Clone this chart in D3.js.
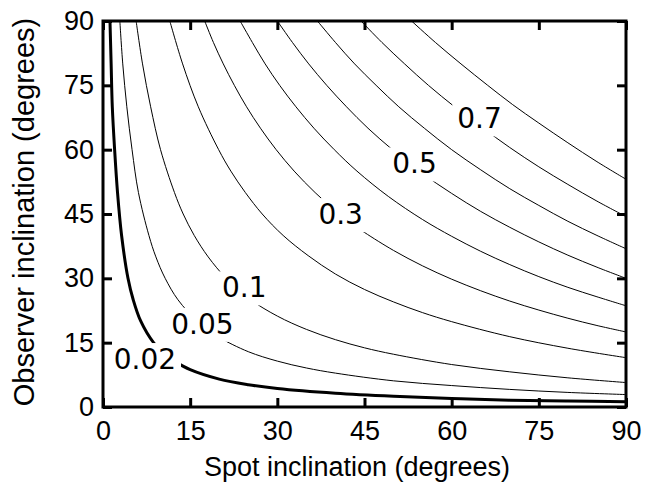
<!DOCTYPE html>
<html>
<head>
<meta charset="utf-8">
<script src="https://cdn.jsdelivr.net/npm/d3@7"></script>
<style>
body { margin: 0; background: #fff; }
</style>
</head>
<body>
<script>
// contour lines as [spot, observer] points in degrees
var levels = [0.02, 0.05, 0.1, 0.2, 0.3, 0.4, 0.5, 0.6, 0.7, 0.8];

var line002 = [[1.2, 90], [1.4, 80], [1.6, 70], [2.0, 60], [2.5, 50], [3.2, 40], [4.3, 30], [5.2, 25], [6.5, 20], [8.7, 15], [10.9, 12], [11.4, 11.4], [12, 10.9], [15, 8.7], [20, 6.5], [25, 5.2], [30, 4.3], [40, 3.2], [50, 2.5], [60, 2.0], [70, 1.6], [80, 1.4], [90, 1.2]];
var line005 = [[2.9, 90], [3.4, 80], [4.1, 70], [5.0, 60], [6.1, 50], [7.9, 40], [9.1, 35], [10.7, 30], [12.9, 25], [16.2, 20], [18, 18], [20, 16.2], [25, 12.9], [30, 10.7], [35, 9.1], [40, 7.9], [50, 6.1], [60, 5.0], [70, 4.1], [80, 3.4], [90, 2.9]];
var line01 = [[5.7, 90], [6.8, 80], [8.2, 70], [9.9, 60], [12.3, 50], [13.8, 45], [15.7, 40], [18.1, 35], [21.2, 30], [25.2, 25.2], [30, 21.2], [35, 18.1], [40, 15.7], [45, 13.8], [50, 12.3], [60, 9.9], [70, 8.2], [80, 6.8], [90, 5.7]];
var line02 = [[11.5, 90], [13.7, 80], [16.4, 70], [19.9, 60], [22, 55], [24.5, 50], [27.4, 45], [31, 40], [35.3, 35.3], [40, 31], [45, 27.4], [50, 24.5], [55, 22], [60, 19.9], [70, 16.4], [80, 13.7], [90, 11.5]];
var line03 = [[17.5, 90], [19, 85], [20.7, 80], [22.6, 75], [24.7, 70], [27.1, 65], [29.8, 60], [32.9, 55], [36.5, 50], [40.7, 45], [42.8, 42.8], [45, 40.7], [50, 36.5], [55, 32.9], [60, 29.8], [65, 27.1], [70, 24.7], [75, 22.6], [80, 20.7], [85, 19], [90, 17.5]];
var line04 = [[23.6, 90], [25.7, 85], [27.9, 80], [30.4, 75], [33.2, 70], [36.3, 65], [39.8, 60], [43.7, 55], [49.1, 49.1], [55, 43.7], [60, 39.8], [65, 36.3], [70, 33.2], [75, 30.4], [80, 27.9], [85, 25.7], [90, 23.6]];
var line05 = [[30, 90], [32.6, 85], [35.4, 80], [38.5, 75], [41.9, 70], [45.6, 65], [49.8, 60], [54.7, 54.7], [60, 49.8], [65, 45.6], [70, 41.9], [75, 38.5], [80, 35.4], [85, 32.6], [90, 30]];
var line06 = [[36.9, 90], [40, 85], [43.3, 80], [47, 75], [50.9, 70], [55.3, 65], [60, 60], [65, 55.3], [70, 50.9], [75, 47], [80, 43.3], [85, 40], [90, 36.9]];
var line07 = [[44.4, 90], [48, 85], [51.9, 80], [56, 75], [60.5, 70], [65.2, 65.2], [70, 60.5], [75, 56], [80, 51.9], [85, 48], [90, 44.4]];
var line08 = [[53.1, 90], [57.2, 85], [61.6, 80], [66.2, 75], [70.5, 70.5], [75, 66.2], [80, 61.6], [85, 57.2], [90, 53.1]];

var contourLines = [line002, line005, line01, line02, line03, line04, line05, line06, line07, line08];

// inline contour labels
var labelText = ['0.02', '0.05', '0.1', '0.3', '0.5', '0.7'];
var labelSpot = [7.2, 17.1, 24.3, 40.9, 53.6, 64.8];
var labelObs = [11.2, 19.4, 27.9, 45.0, 56.8, 67.3];

var tickValues = [0, 15, 30, 45, 60, 75, 90];

var plotLeft = 103, plotRight = 626, plotTop = 21, plotBottom = 407;
var axisFont = '"Liberation Sans", Arial, sans-serif';

var svg = d3.select('body').append('svg')
    .attr('width', 646)
    .attr('height', 485);

var x = d3.scaleLinear().domain([0, 90]).range([plotLeft, plotRight]);
var y = d3.scaleLinear().domain([0, 90]).range([plotBottom, plotTop]);

svg.append('clipPath')
    .attr('id', 'plot-clip')
    .append('rect')
    .attr('x', plotLeft).attr('y', plotTop)
    .attr('width', plotRight - plotLeft).attr('height', plotBottom - plotTop);

var line = d3.line()
    .x((d) => x(d[0]))
    .y((d) => y(d[1]))
    .curve(d3.curveCatmullRom.alpha(0.5));

var contourData = levels.map((lv, i) => ({level: lv, points: contourLines[i]}));

svg.append('g')
    .attr('clip-path', 'url(#plot-clip)')
    .selectAll('path')
    .data(contourData)
    .enter()
        .append('path')
        .attr('fill', 'none')
        .attr('stroke', '#000')
        .attr('stroke-width', (d) => d.level === 0.02 ? 3 : 1)
        .attr('d', (d) => line(d.points));

// labels sit on a white box that cuts the line
var labels = svg.append('g')
    .selectAll('g')
    .data(labelText.map((t, i) => ({text: t, sx: labelSpot[i], oy: labelObs[i]})))
    .enter()
        .append('g')
        .attr('transform', (d) => `translate(${x(d.sx)},${y(d.oy)})`);

labels.append('rect').attr('fill', '#fff');

labels.append('text')
    .attr('text-anchor', 'middle')
    .attr('dy', '0.36em')
    .style('font-family', '"DejaVu Sans", sans-serif')
    .style('font-size', '28px')
    .text((d) => d.text);

labels.each(function() {
    var g = d3.select(this);
    var b = g.select('text').node().getBBox();
    g.select('rect')
        .attr('x', b.x - 5).attr('y', b.y)
        .attr('width', b.width + 10).attr('height', b.height + 1);
});

// axes, ticks pointing inwards on all four sides
function styleAxis(g, showLabels) {
    g.select('.domain').remove();
    g.selectAll('.tick line').attr('stroke', '#000').attr('stroke-width', 3);
    g.selectAll('.tick text')
        .attr('fill', '#000')
        .style('font-family', axisFont)
        .style('font-size', '27px');
    if (!showLabels) g.selectAll('.tick text').remove();
}

svg.append('g')
    .attr('transform', `translate(0,${plotBottom})`)
    .call(d3.axisBottom(x).tickValues(tickValues).tickSizeInner(-9).tickSizeOuter(0).tickPadding(14))
    .call(styleAxis, true);

svg.append('g')
    .attr('transform', `translate(0,${plotTop})`)
    .call(d3.axisTop(x).tickValues(tickValues).tickSizeInner(-9).tickSizeOuter(0))
    .call(styleAxis, false);

svg.append('g')
    .attr('transform', `translate(${plotLeft},0)`)
    .call(d3.axisLeft(y).tickValues(tickValues).tickSizeInner(-9).tickSizeOuter(0).tickPadding(9))
    .call(styleAxis, true);

svg.append('g')
    .attr('transform', `translate(${plotRight},0)`)
    .call(d3.axisRight(y).tickValues(tickValues).tickSizeInner(-9).tickSizeOuter(0))
    .call(styleAxis, false);

svg.append('rect')
    .attr('x', plotLeft).attr('y', plotTop)
    .attr('width', plotRight - plotLeft).attr('height', plotBottom - plotTop)
    .attr('fill', 'none')
    .attr('stroke', '#000')
    .attr('stroke-width', 3);

svg.append('text')
    .attr('x', 357)
    .attr('y', 476)
    .attr('text-anchor', 'middle')
    .style('font-family', axisFont)
    .style('font-size', '27px')
    .text('Spot inclination (degrees)');

svg.append('text')
    .attr('transform', `translate(34,${(plotTop + plotBottom) / 2 - 2}) rotate(-90)`)
    .attr('text-anchor', 'middle')
    .style('font-family', axisFont)
    .style('font-size', '29px')
    .text('Observer inclination (degrees)');
</script>
</body>
</html>
